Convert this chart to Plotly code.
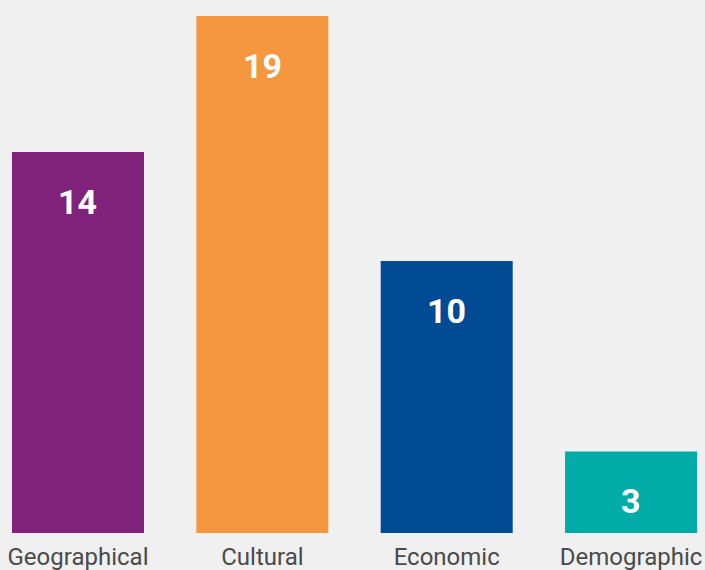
import plotly.graph_objects as go

categories = ["Geographical", "Cultural", "Economic", "Demographic"]
values = [14, 19, 10, 3]
colors = ["#80217a", "#f4973f", "#004b93", "#00aba8"]

fig = go.Figure()
fig.add_trace(go.Bar(
    x=categories, y=values, marker=dict(color=colors, line=dict(width=0)),
    width=0.716, hoverinfo="skip",
))
for c, v in zip(categories, values):
    fig.add_annotation(x=c, y=v, text=f"<b>{v}</b>", showarrow=False,
                       yanchor="middle", yshift=-50,
                       font=dict(family="Roboto", size=34, color="white"))

fig.update_layout(
    width=705, height=570,
    margin=dict(l=0, r=0, t=0, b=37),
    paper_bgcolor="#f0f0f0", plot_bgcolor="#f0f0f0",
    showlegend=False,
    xaxis=dict(range=[-0.423, 3.401], showgrid=False, zeroline=False, showline=False,
               ticks="", ticklabelstandoff=7, automargin=False,
               tickfont=dict(family="Roboto", size=24, color="#4a4a4a")),
    yaxis=dict(range=[0, 19.59], visible=False, showgrid=False, zeroline=False,
               automargin=False),
)
fig.write_html("out.html", config={"displayModeBar": False},
               post_script="document.body.style.margin='0';document.body.style.background='#f0f0f0';")
